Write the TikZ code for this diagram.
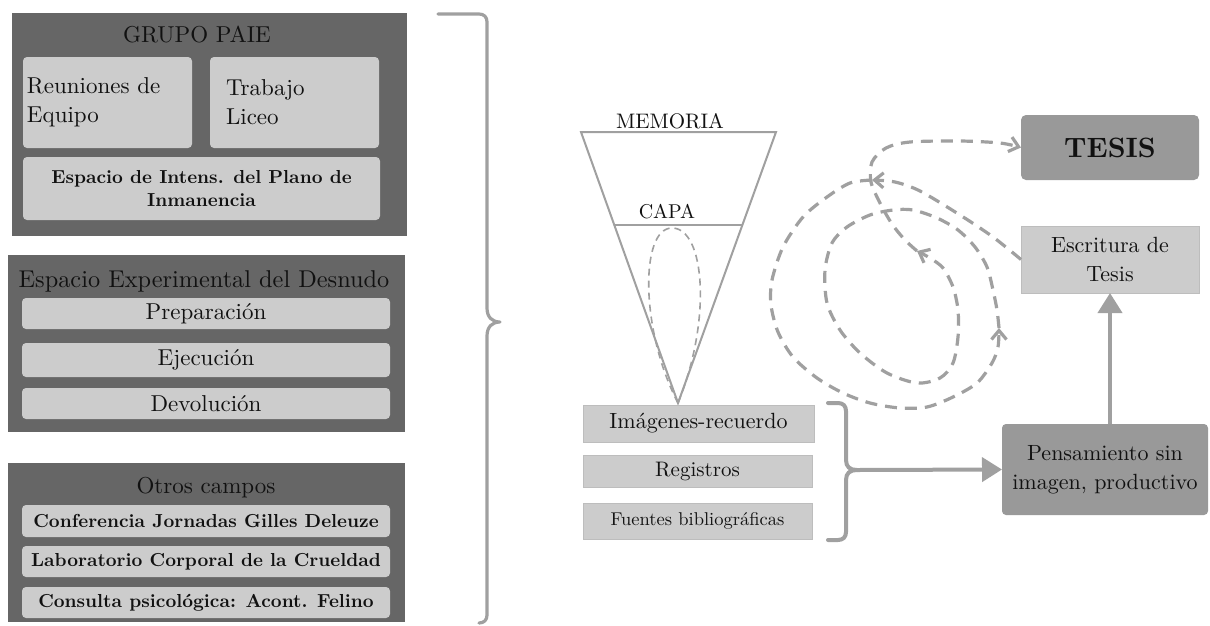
\documentclass[tikz,border=0pt]{standalone}
\usepackage{fontspec}
\setmainfont{lmroman10-regular}[Extension=.otf, BoldFont=lmroman10-bold,
  ItalicFont=lmroman10-italic, BoldItalicFont=lmroman10-bolditalic]
\usetikzlibrary{arrows.meta}
\definecolor{panelgray}{HTML}{666666}
\definecolor{boxgray}{HTML}{CCCCCC}
\definecolor{midgray}{HTML}{999999}
\definecolor{linegray}{HTML}{A0A0A0}
\definecolor{edgegray}{HTML}{BDBDBD}
\definecolor{inkblack}{HTML}{111111}
\begin{document}
\begin{tikzpicture}[x=1pt,y=-1pt,
  panel/.style={fill=panelgray, draw=none, inner sep=0pt, outer sep=0pt, anchor=north west},
  softbox/.style={fill=boxgray, draw=none, rounded corners=4pt, inner sep=0pt, outer sep=0pt,
    anchor=north west, align=center, text=inkblack},
  flatbox/.style={fill=boxgray, draw=edgegray, line width=0.8pt, inner sep=0pt, outer sep=0pt,
    anchor=north west, align=center, text=inkblack},
  darkbox/.style={fill=midgray, draw=none, rounded corners=5pt, inner sep=0pt, outer sep=0pt,
    anchor=north west, align=center, text=inkblack},
  ptitle/.style={anchor=base, inner sep=0pt, text=inkblack, font=\fontsize{23}{28}\selectfont},
  itemfont/.style={font=\fontsize{23}{29}\selectfont},
  heavyfont/.style={font=\fontsize{18.8}{23}\selectfont\bfseries},
  bracket/.style={draw=linegray, line width=3.2pt, line cap=round, line join=round},
  funnel/.style={draw=linegray, line width=2pt, line join=miter},
  loopline/.style={draw=linegray, line width=1.6pt, dash pattern=on 7pt off 5pt},
  spiral/.style={draw=linegray, line width=3.2pt, dash pattern=on 12pt off 8pt,
    -{Straight Barb[length=9pt,width=15pt]}},
  bigarrow/.style={draw=linegray, line width=4pt, -{Triangle[length=20pt,width=24pt]}}
]
\useasboundingbox (0,0) rectangle (1210,625);
\fill[white] (0,0) rectangle (1210,625);

% ---------- GRUPO PAIE ----------
\node[panel, minimum width=395, minimum height=223] (grupo) at (12,13) {};
\node[ptitle] (grupoT) at (197,42) {GRUPO PAIE};
\node[softbox, itemfont, minimum width=169, minimum height=91, text width=161, inner xsep=4pt, align=left]
  (reun) at (23,57) {Reuniones de\\Equipo};
\node[softbox, itemfont, minimum width=169, minimum height=91, text width=137, inner xsep=16pt, align=left]
  (trab) at (210,57) {Trabajo\\Liceo};
\node[softbox, heavyfont, minimum width=357, minimum height=63]
  (inten) at (23,157) {Espacio de Intens. del Plano de\\Inmanencia};

% ---------- Espacio Experimental ----------
\node[panel, minimum width=397, minimum height=177] (desn) at (8,255) {};
\node[ptitle, font=\fontsize{24.3}{28}\selectfont] (desnT) at (204,287) {Espacio Experimental del Desnudo};
\node[softbox, itemfont, minimum width=368, minimum height=31] (prep) at (22,298) {Preparación};
\node[softbox, itemfont, minimum width=368, minimum height=34] (ejec) at (22,343) {Ejecución};
\node[softbox, itemfont, minimum width=368, minimum height=31] (devo) at (22,388) {Devolución};

% ---------- Otros campos ----------
\node[panel, minimum width=397, minimum height=159] (otros) at (8,463) {};
\node[ptitle] (otrosT) at (206,493) {Otros campos};
\node[softbox, heavyfont, minimum width=368, minimum height=32] (conf) at (22,505) {Conferencia Jornadas Gilles Deleuze};
\node[softbox, heavyfont, minimum width=368, minimum height=31] (labo) at (22,546) {Laboratorio Corporal de la Crueldad};
\node[softbox, heavyfont, minimum width=368, minimum height=31] (cons) at (22,587) {Consulta psicológica: Acont. Felino};

% ---------- large brace ----------
\draw[bracket] (438,14) -- (479,14) .. controls (484,14) and (487,17) .. (487,22)
  -- (487,308) .. controls (487,317) and (492,322) .. (500,322)
  .. controls (492,322) and (487,327) .. (487,336)
  -- (487,615) .. controls (487,620) and (484,623) .. (479,623);

% ---------- memory funnel ----------
\coordinate (ftl) at (581,132);
\coordinate (ftr) at (776,132);
\coordinate (ftip) at (678,403);
\coordinate (capl) at (614,225);
\coordinate (capr) at (742,225);
\draw[funnel] (ftl) -- (ftr) -- (ftip) -- cycle;
\draw[funnel] (capl) -- (capr);
\node[anchor=base, inner sep=0pt, text=inkblack, font=\fontsize{21}{25}\selectfont] (memT) at (670,128) {MEMORIA};
\node[anchor=base, inner sep=0pt, text=inkblack, font=\fontsize{20}{24}\selectfont] (capaT) at (667,218) {CAPA};
\draw[loopline] (ftip) .. controls (640,330) and (640,228) .. (672,228)
  .. controls (705,228) and (712,320) .. (ftip);

% ---------- sources ----------
\node[flatbox, minimum width=231, minimum height=37, font=\fontsize{22}{26}\selectfont] (imag) at (583,405) {Imágenes-recuerdo};
\node[flatbox, minimum width=229, minimum height=32, font=\fontsize{21}{25}\selectfont] (regi) at (583,455) {Registros};
\node[flatbox, minimum width=229, minimum height=36, font=\fontsize{18.5}{22}\selectfont] (fuen) at (583,503) {Fuentes bibliográficas};

% small brace
\coordinate (btip) at (857,470);
\draw[bracket, line width=4pt] (828,403) -- (838,403) .. controls (843,403) and (846,406) .. (846,411)
  -- (846,460) .. controls (846,467) and (850,470) .. (btip)
  .. controls (850,470) and (846,473) .. (846,480)
  -- (846,532) .. controls (846,537) and (843,540) .. (838,540) -- (828,540);

% ---------- right column ----------
\node[darkbox, minimum width=178, minimum height=65, font=\fontsize{28}{32}\selectfont\bfseries] (tesis) at (1021,115) {TESIS};
\node[flatbox, minimum width=178, minimum height=67, font=\fontsize{22}{29}\selectfont] (esc) at (1021,226) {Escritura de\\Tesis};
\node[darkbox, rounded corners=4pt, minimum width=206, minimum height=91, font=\fontsize{22}{29}\selectfont] (pens) at (1002,424) {Pensamiento sin\\imagen, productivo};

\draw[bigarrow] (btip) -- (pens.west);
\draw[bigarrow] (esc.south |- pens.north) -- (esc.south);

% ---------- writing spiral ----------
\coordinate (s1) at (872,180);
\coordinate (s2) at (999,328);
\coordinate (s3) at (917,251);
\draw[spiral] plot[smooth] coordinates {(esc.west) (993,237) (960,215) (920,191) (895,182) (s1)};
\draw[spiral] plot[smooth] coordinates {(s1) (850,183) (827,197) (803,217) (783,247) (772,280) (771,305)
  (778,332) (793,357) (817,378) (843,393) (870,403) (900,408) (927,407) (953,397) (977,383)
  (992,363) (998,347) (s2)};
\draw[spiral] plot[smooth] coordinates {(s2) (997,310) (993,290) (987,267) (975,247) (958,230) (937,218)
  (913,210) (893,210) (870,215) (847,227) (832,243) (825,270) (827,303) (840,330) (860,353)
  (887,373) (917,383) (940,378) (953,363) (958,337) (958,310) (953,287) (943,268) (930,258) (s3)};
\draw[spiral] plot[smooth] coordinates {(s3) (905,240) (892,224) (880,203) (871,182) (872,162) (886,148)
  (910,142) (960,141) (1000,143) (tesis.west)};
\end{tikzpicture}
\end{document}
